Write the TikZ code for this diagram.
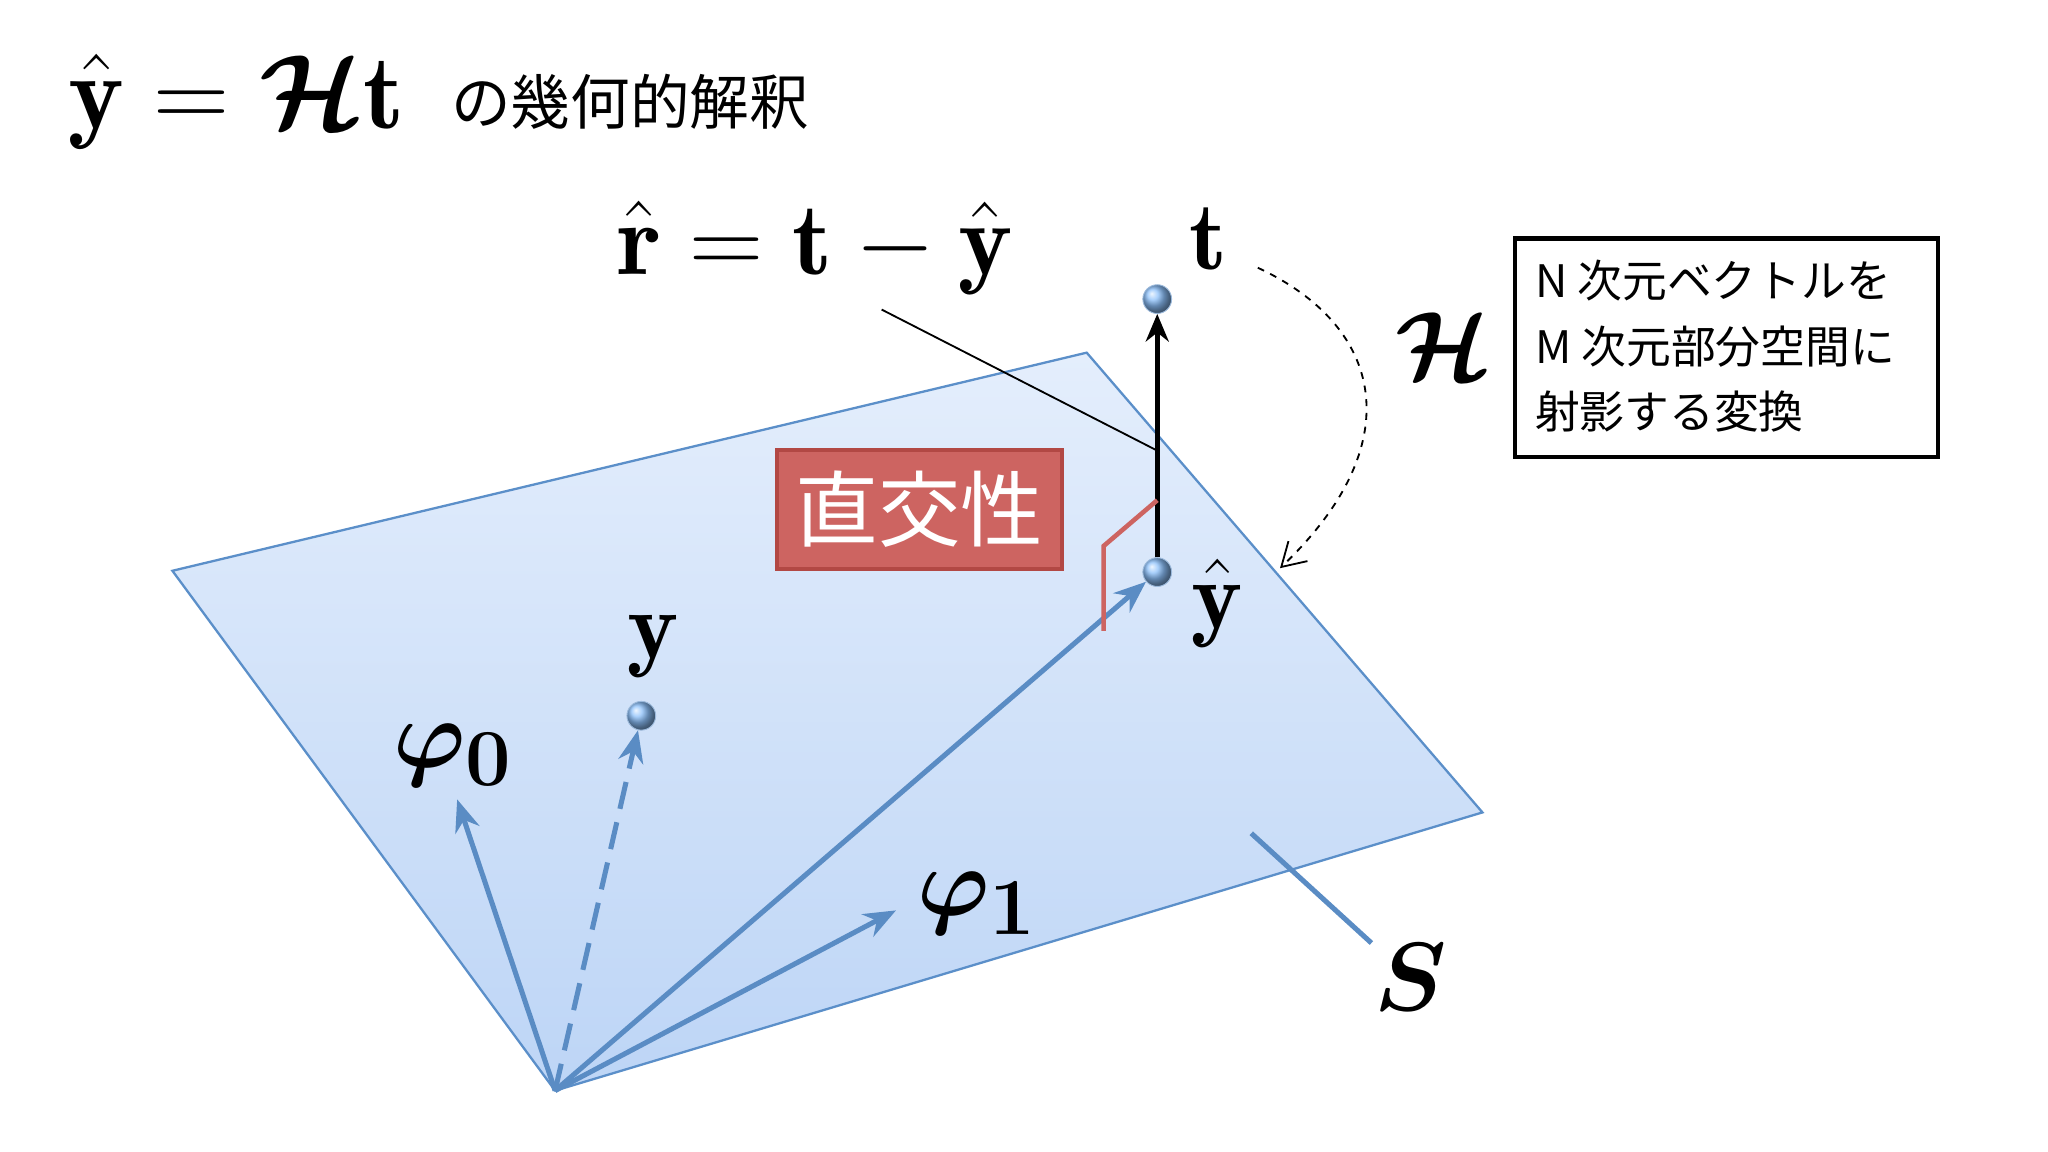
\documentclass[tikz,border=0pt]{standalone}
\usepackage{amsmath,bm}
\usepackage{fontspec}
\newfontfamily\jp{Noto Sans CJK JP}
\usetikzlibrary{arrows.meta}
\definecolor{planeedge}{HTML}{5B8FC9}
\definecolor{planetop}{HTML}{E4EEFC}
\definecolor{planebot}{HTML}{BDD5F6}
\definecolor{vecblue}{HTML}{5A8CC4}
\definecolor{ballc}{HTML}{8CC0FA}
\definecolor{boxred}{HTML}{CD6461}
\definecolor{boxredd}{HTML}{B24844}
\tikzset{
  px/.style={x=0.02cm,y=-0.02cm},
  vec/.style={draw=vecblue,line width=2.2pt,-{Stealth[length=14pt,width=11pt]}},
  pt/.style={circle,minimum size=22*0.02cm,inner sep=0pt,shading=ball,ball color=ballc,draw=vecblue!60,line width=0.4pt},
  lbl/.style={inner sep=0pt,font=\Huge,scale=1.7},
}
\begin{document}
\begin{tikzpicture}[px]
\useasboundingbox (0,0) rectangle (1568,882);
% plane
\shade[top color=planetop,bottom color=planebot]
  (132,437) -- (832,270) -- (1135,622) -- (425,835) -- cycle;
\draw[planeedge,line width=1pt] (132,437) -- (832,270) -- (1135,622) -- (425,835) -- cycle;
\coordinate (O) at (425,835);
\coordinate (p0) at (350,612);
\coordinate (p1) at (686,697);
\node[pt] (Y) at (491,548) {};
\node[pt] (YH) at (886,438) {};
\node[pt] (T) at (886,229) {};
\draw[vec] (O) -- (p0);
\draw[vec] (O) -- (p1);
\draw[vec] (O) -- (YH);
\draw[vecblue,line width=2.2pt,dash pattern=on 12pt off 6pt,-{Stealth[length=14pt,width=11pt]}] (O) -- (Y);
\draw[black,line width=2.2pt,-{Stealth[length=12pt,width=10pt]}] (YH) -- (T);
% right angle
\draw[boxred,line width=2pt] (886,383) -- (845,418) -- (845,483);
% labels
\node[lbl] (lp0) at (347,578) {$\bm{\varphi_0}$};
\node[lbl] (lp1) at (748,692) {$\bm{\varphi_1}$};
\node[lbl] (ly) at (500,495) {$\mathbf{y}$};
\node[lbl] (lyh) at (932,462) {$\hat{\mathbf{y}}$};
\node[lbl] (lt) at (925,183) {$\mathbf{t}$};
\node[lbl,scale=1.06] (lr) at (624,190) {$\hat{\mathbf{r}}=\mathbf{t}-\hat{\mathbf{y}}$};
\node[lbl] (lH) at (1105,265) {$\bm{\mathcal{H}}$};
\node[lbl] (lS) at (1080,748) {$\bm{S}$};
\coordinate (rs) at (675,237);
\coordinate (re) at (886,345);
\draw[black,line width=0.8pt] (rs) -- (re);
\coordinate (ss) at (958,638);
\coordinate (se) at (1050,722);
\draw[vecblue,line width=2.2pt] (ss) -- (se);
% dashed curve
\coordinate (cs) at (963,205);
\coordinate (ce) at (980,435);
\draw[black,line width=0.8pt,dashed,-{Straight Barb[length=10pt,width=12pt]}] (cs) .. controls (1060,250) and (1080,340) .. (ce);
% red box
\node[draw=boxredd,fill=boxred,line width=2pt,minimum width=218*0.02cm,minimum height=91*0.02cm,text=white,font=\jp\fontsize{36}{40}\selectfont] (ok) at (704,390) {直交性};
% info box
\node[draw=black,line width=2pt,minimum width=324*0.02cm,minimum height=167*0.02cm,anchor=north west,inner sep=0pt] (info) at (1158,181) {};
\node[anchor=west,align=left,font=\jp\fontsize{19.5}{28.5}\selectfont,inner sep=0pt] (infot) at (1175,265) {N 次元ベクトルを\\M 次元部分空間に\\射影する変換};
% title
\node[anchor=west,inner sep=0pt,font=\Huge,scale=1.85] (title) at (52,78) {$\hat{\mathbf{y}}=\bm{\mathcal{H}}\mathbf{t}$};
\node[anchor=west,inner sep=0pt,font=\jp\fontsize{26}{30}\selectfont] (title2) at (345,78) {の幾何的解釈};
\end{tikzpicture}
\end{document}
